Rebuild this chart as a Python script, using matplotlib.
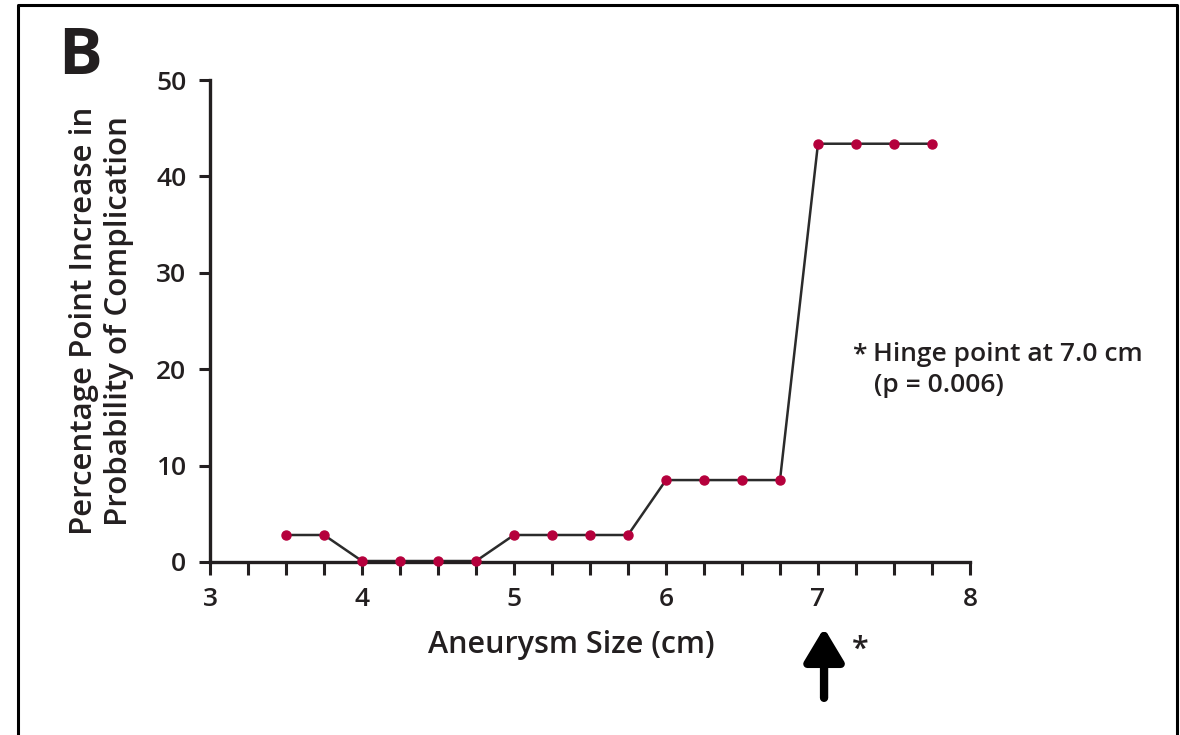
import matplotlib
matplotlib.use("Agg")
import matplotlib.pyplot as plt
from matplotlib.lines import Line2D
import numpy as np

plt.rcParams['font.family'] = ['Open Sans', 'DejaVu Sans']
plt.rcParams['font.weight'] = 'semibold'
plt.rcParams['axes.labelweight'] = 'semibold'

size_cm = [3.5, 3.75, 4.0, 4.25, 4.5, 4.75, 5.0, 5.25, 5.5, 5.75,
           6.0, 6.25, 6.5, 6.75, 7.0, 7.25, 7.5, 7.75]
increase = [2.8, 2.8, 0.1, 0.1, 0.1, 0.1, 2.8, 2.8, 2.8, 2.8,
            8.5, 8.5, 8.5, 8.5, 43.4, 43.4, 43.4, 43.4]
x_ticks = [3, 4, 5, 6, 7, 8]
y_ticks = [0, 10, 20, 30, 40, 50]

ink = '#231f20'

fig = plt.figure(figsize=(11.8, 7.35), dpi=100)
ax = fig.add_axes([0.178, 0.2354, 0.644, 0.6556])

ax.plot(size_cm, increase, color='#2b2b2b', lw=1.8, zorder=2, clip_on=False)
ax.plot(size_cm, increase, 'o', color='#b5003c', ms=6.5, mec='#b5003c', zorder=3, clip_on=False)

ax.set_xlim(3, 8)
ax.set_ylim(0, 50)
ax.set_xticks(x_ticks)
ax.set_xticks(np.arange(3, 8.01, 0.25), minor=True)
ax.set_yticks(y_ticks)

for s in ['top', 'right']:
    ax.spines[s].set_visible(False)
for s in ['left', 'bottom']:
    ax.spines[s].set_linewidth(2.4)
    ax.spines[s].set_color(ink)

ax.tick_params(axis='x', which='both', direction='out', length=9, width=2.2, color=ink,
               labelsize=19, labelcolor=ink, pad=9)
ax.tick_params(axis='y', direction='out', length=8, width=2.2, color=ink,
               labelsize=19, labelcolor=ink, pad=9)

ax.set_xlabel('Aneurysm Size (cm)', fontsize=22, color=ink, labelpad=13)
ax.xaxis.label.set_x(0.476)
ax.set_ylabel('Percentage Point Increase in\nProbability of Complication',
              fontsize=22.5, color=ink, labelpad=16, linespacing=1.2)

ax.text(7.225, 20.85, '*', fontsize=19, color=ink, va='baseline', ha='left')
ax.text(7.36, 20.85, 'Hinge point at 7.0 cm', fontsize=19, color=ink,
        va='baseline', ha='left')
ax.text(7.37, 17.6, '(p = 0.006)', fontsize=19, color=ink,
        va='baseline', ha='left')

# arrow marking the hinge point
ax.annotate('', xy=(7.04, -0.137), xytext=(7.04, -0.282),
            xycoords=('data', 'axes fraction'), textcoords=('data', 'axes fraction'),
            arrowprops=dict(arrowstyle='-|>,head_length=2.0,head_width=1.2',
                            lw=6, color='black', shrinkA=0, shrinkB=0),
            annotation_clip=False)
ax.text(7.22, -0.183, '*', transform=ax.get_xaxis_transform(), fontsize=22,
        color=ink, ha='left', va='center')

fig.text(0.049, 0.877, 'B', fontsize=47, fontweight='bold', color=ink, va='bottom')

# panel border (open at the bottom)
fig.add_artist(Line2D([0.0153, 0.0153, 0.9975, 0.9975], [0.0, 0.9935, 0.9935, 0.0],
                      transform=fig.transFigure, color='black', lw=2.2))

fig.savefig('out.png', dpi=100)
